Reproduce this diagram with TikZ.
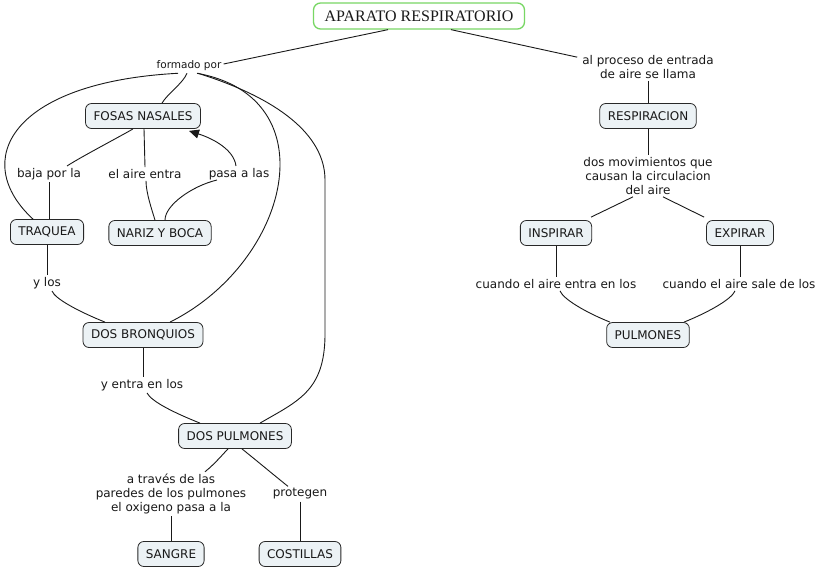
\documentclass[tikz,border=0pt]{standalone}
\usepackage{fontspec}
\setmainfont{DejaVu Sans}
\newfontfamily\titlefont{Liberation Serif}
\usetikzlibrary{arrows.meta}
\definecolor{nodefill}{RGB}{236,242,245}
\definecolor{nodeline}{RGB}{40,40,40}
\definecolor{titleline}{RGB}{120,215,100}
\definecolor{ink}{RGB}{25,25,25}
\begin{document}
\begin{tikzpicture}[x=1pt,y=-1pt,
  concept/.style={draw=nodeline, line width=0.8pt, rounded corners=6pt, fill=nodefill,
    inner xsep=8pt, inner ysep=2pt, minimum height=25pt, font=\fontsize{12}{14}\selectfont, text=ink},
  titlebox/.style={draw=titleline, line width=1.3pt, rounded corners=7pt, fill=white,
    minimum width=211pt, minimum height=26pt, font=\titlefont\fontsize{16}{18}\selectfont, text=ink},
  phrase/.style={inner sep=2pt, font=\fontsize{12}{14}\selectfont, align=center, text=ink},
  smallphrase/.style={inner sep=2pt, font=\fontsize{10.5}{13}\selectfont, align=center, text=ink},
  link/.style={draw=ink, line width=0.9pt},
  arrowlink/.style={link, -{Triangle[length=10pt,width=9pt]}}]
\useasboundingbox[fill=white] (0,0) rectangle (819,568);

% concepts
\node[titlebox] (title) at (419,16) {APARATO RESPIRATORIO};
\node[concept] (fosas) at (143,116) {FOSAS NASALES};
\node[concept] (traquea) at (47,232) {TRAQUEA};
\node[concept] (nariz) at (160,233) {NARIZ Y BOCA};
\node[concept] (bronquios) at (143,335) {DOS BRONQUIOS};
\node[concept] (dospulm) at (235,436) {DOS PULMONES};
\node[concept] (sangre) at (171,554) {SANGRE};
\node[concept] (costillas) at (300,554) {COSTILLAS};
\node[concept] (resp) at (648,116) {RESPIRACION};
\node[concept] (insp) at (556,233) {INSPIRAR};
\node[concept] (exp) at (740,233) {EXPIRAR};
\node[concept] (pulm) at (648,335) {PULMONES};

% linking phrases
\node[smallphrase] (fp) at (189,66) {formado por};
\node[phrase] (ap) at (648,67) {al proceso de entrada\\de aire se llama};
\node[phrase] (baja) at (49,174) {baja por la};
\node[phrase] (aire) at (145,174) {el aire entra};
\node[phrase] (pasa) at (239,174) {pasa a las};
\node[phrase] (ylos) at (47,283) {y los};
\node[phrase] (yentra) at (142,385) {y entra en los};
\node[phrase] (atraves) at (171,494) {a través de las\\paredes de los pulmones\\el oxigeno pasa a la};
\node[phrase] (protegen) at (300,494) {protegen};
\node[phrase] (dosmov) at (648,176) {dos movimientos que\\causan la circulacion\\del aire};
\node[phrase] (centra) at (556,284) {cuando el aire entra en los};
\node[phrase] (csale) at (739,284) {cuando el aire sale de los};

% connectors, left part
\draw[link] ([xshift=-31pt]title.south) -- ([yshift=2pt]fp.east);
\draw[link] ([xshift=-2pt]fp.south) .. controls +(-4,10) and +(6,-10) .. ([xshift=19pt]fosas.north);
\draw[link] ([xshift=-11pt]fp.south) .. controls +(-168,9) and +(-63,-58) .. ([xshift=-14pt]traquea.north);
\draw[link] ([xshift=8pt]fp.south) .. controls +(133,24) and +(120,-60) .. ([xshift=27pt]bronquios.north);
\draw[link] ([xshift=9pt]fp.south) .. controls +(80,25) and +(0,-45) .. (325,180)
  -- (325,330) .. controls (326,390) and (300,400) .. ([xshift=25pt]dospulm.north);
\draw[link] ([xshift=-10pt]fosas.south) .. controls +(-10,6) and +(12,-8) .. ([xshift=18pt]baja.north);
\draw[link] (baja.south) -- ([xshift=2pt]traquea.north);
\draw[link] ([xshift=1pt]fosas.south) -- (aire.north);
\draw[link] ([xshift=1pt]aire.south) .. controls +(0,12) and +(-3,-10) .. ([xshift=-5pt]nariz.north);
\draw[link] ([xshift=5pt]nariz.north) .. controls +(0,-15) and +(-25,6) .. ([xshift=-22pt,yshift=2pt]pasa.south);
\draw[arrowlink] ([xshift=-3pt]pasa.north) .. controls +(-2,-16) and +(25,8) .. ([xshift=46pt,yshift=-2pt]fosas.south);
\draw[link] (traquea.south) -- (ylos.north);
\draw[link] ([xshift=5pt]ylos.south) .. controls +(3,8) and +(-25,-10) .. ([xshift=-38pt]bronquios.north);
\draw[link] (bronquios.south) -- ([xshift=1pt]yentra.north);
\draw[link] ([xshift=5pt]yentra.south) .. controls +(5,9) and +(-25,-10) .. ([xshift=-35pt]dospulm.north);
\draw[link] ([xshift=-7pt]dospulm.south) .. controls +(-4,4) and +(10,-8) .. ([xshift=34pt]atraves.north);
\draw[link] (atraves.south) -- (sangre.north);
\draw[link] ([xshift=7pt]dospulm.south) .. controls +(15,12) and +(-15,-12) .. ([xshift=-12pt]protegen.north);
\draw[link] (protegen.south) -- (costillas.north);

% connectors, right part
\draw[link] ([xshift=32pt]title.south) -- ([yshift=-4pt,xshift=-3pt]ap.north west);
\draw[link] (ap.south) -- (resp.north);
\draw[link] (resp.south) -- (dosmov.north);
\draw[link] ([xshift=-15pt]dosmov.south) -- ([xshift=-1pt,yshift=3pt]insp.north east);
\draw[link] ([xshift=15pt]dosmov.south) -- ([xshift=-2pt,yshift=3pt]exp.north west);
\draw[link] (insp.south) -- (centra.north);
\draw[link] ([xshift=4pt]centra.south) .. controls +(3,8) and +(-25,-10) .. ([xshift=-38pt]pulm.north);
\draw[link] (exp.south) -- ([xshift=1pt]csale.north);
\draw[link] ([xshift=-4pt]csale.south) .. controls +(-3,8) and +(25,-10) .. ([xshift=36pt]pulm.north);
\end{tikzpicture}
\end{document}
